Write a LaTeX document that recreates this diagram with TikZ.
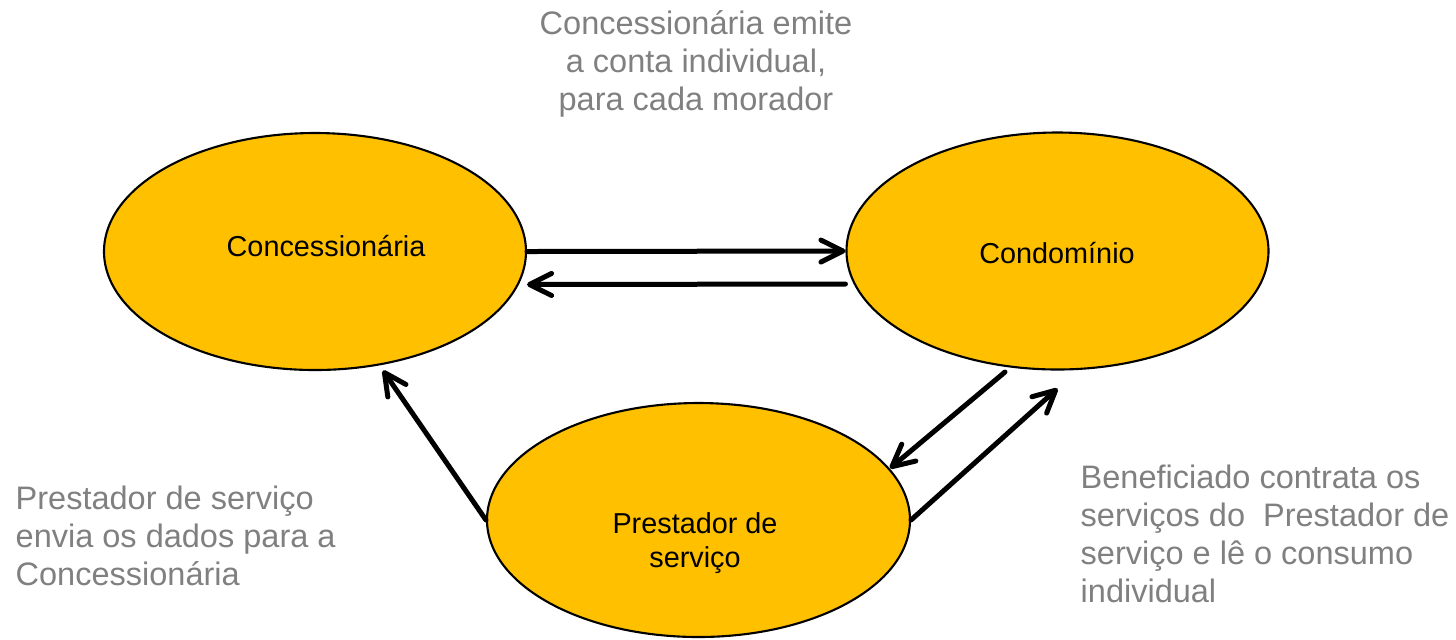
\documentclass[tikz,border=0pt]{standalone}
\usepackage{fontspec}
\setmainfont{Liberation Sans}
\usetikzlibrary{shapes.geometric,arrows.meta,calc}
\definecolor{ovalfill}{RGB}{255,192,0}
\definecolor{notegray}{RGB}{128,128,128}

\begin{document}
\begin{tikzpicture}[x=0.1mm,y=-0.1mm,
  oval/.style={ellipse,draw=black,line width=0.6pt,fill=ovalfill,inner sep=0pt,
    minimum width=42.2mm,minimum height=23.7mm},
  flow/.style={line width=0.5mm,line cap=round,
    -{Straight Barb[length=2.2mm,width=2.2mm,line cap=round,line join=round]}},
  note/.style={text=notegray,font=\fontsize{9.25}{10.8}\selectfont,inner sep=0pt,anchor=base west,align=left},
  caption/.style={font=\fontsize{8.2}{9.7}\selectfont,inner sep=0pt,align=center}]
  \useasboundingbox (0,0) rectangle (1456,639);
   % the three parties
   \node[oval] (conc) at (315,251.5) {};
   \node[oval] (condo) at (1057.5,251) {};
   \node[oval,minimum width=42.3mm,minimum height=23.4mm] (prest) at (698.5,520) {};
   \node[caption] (concname) at (326,246) {Concessionária};
   \node[caption] (condoname) at (1057,253) {Condomínio};
   \node[caption] (prestname) at (695,543) {Prestador de\\serviço};
   % flows between them
 \draw[flow] (conc.east) -- (condo.west);
 \draw[flow] ($(condo.west)+(0,33)$) -- ($(conc.east)+(0,33)$);
 \draw[flow] (prest.west) -- ($(conc.center)+(68,119)$);
 \draw[flow] ($(condo.center)+(-52.5,121)$) -- ($(prest.center)+(191.5,-51.7)$);
 \draw[flow] (prest.east) -- ($(condo.south)+(0,18)$);
   % notes (anchored at the baseline of their last line)
  \node[note,anchor=base,align=center] (topnote) at (696,110)
    {Concessionária emite\\a conta individual,\\para cada morador};
  \node[note] (leftnote) at (15,585)
    {Prestador de serviço\\envia os dados para a\\Concessionária};
  \node[note] (rightnote) at (1080,602)
    {Beneficiado contrata os\\serviços do \ Prestador de\\serviço e lê o consumo\\individual};
\end{tikzpicture}
\end{document}
